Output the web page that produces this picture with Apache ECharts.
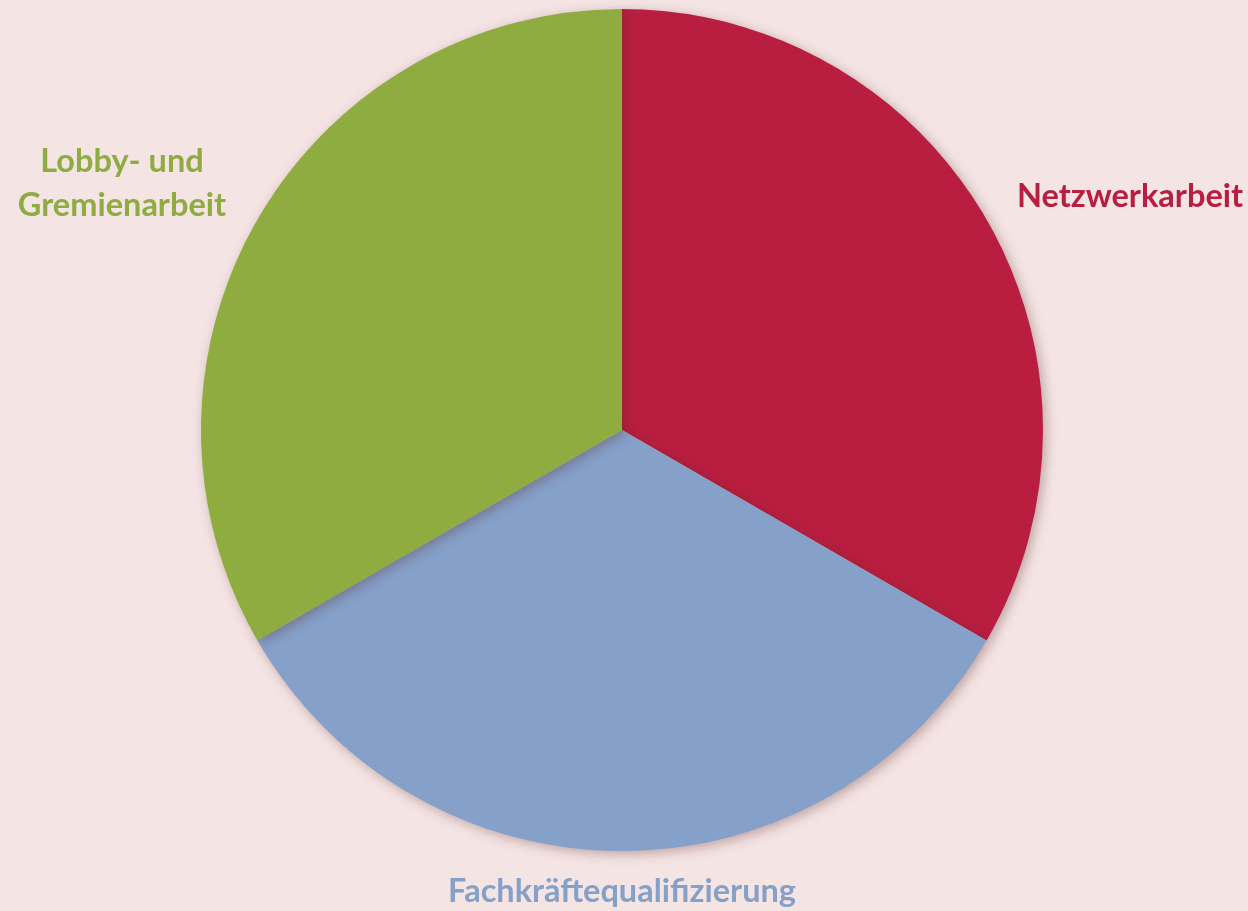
<!DOCTYPE html>
<html><head><meta charset="utf-8">
<script src="https://cdn.jsdelivr.net/npm/echarts@6/dist/echarts.min.js"></script>
<style>html,body{margin:0;padding:0;background:#F5E4E4;}#c{width:1248px;height:911px;}</style>
</head><body><div id="c"></div>
<script>
const categories = ['Netzwerkarbeit', 'Fachkräftequalifizierung', 'Lobby- und\nGremienarbeit'];
const values = [1, 1, 1];
const colors = ['#B91E40', '#85A0C9', '#8EAC40'];
const labelPos = [
  {x: 1130, y: 197},
  {x: 622, y: 892},
  {x: 122, y: 184}
];
const chart = echarts.init(document.getElementById('c'), null, {renderer: 'canvas'});
chart.setOption({
  backgroundColor: '#F5E4E4',
  animation: false,
  series: [{
    type: 'pie',
    center: [622, 430],
    radius: [0, 421],
    startAngle: 90,
    clockwise: true,
    data: categories.map((n, i) => ({
      name: n, value: values[i],
      itemStyle: {color: colors[i]},
      label: {color: colors[i]}
    })),
    itemStyle: {
      borderWidth: 0,
      shadowBlur: 12, shadowColor: 'rgba(90,40,40,0.35)', shadowOffsetX: 3, shadowOffsetY: 3
    },
    label: {
      show: true, position: 'outside', formatter: '{b}', overflow: 'none',
      fontFamily: 'Lato', fontWeight: 'bold', fontSize: 32.5, lineHeight: 44, align: 'center'
    },
    labelLine: {show: false},
    labelLayout: function (p) {
      const lp = labelPos[p.dataIndex];
      return {x: lp.x, y: lp.y, align: 'center', verticalAlign: 'middle'};
    },
    emphasis: {disabled: true}
  }]
});
</script></body></html>
